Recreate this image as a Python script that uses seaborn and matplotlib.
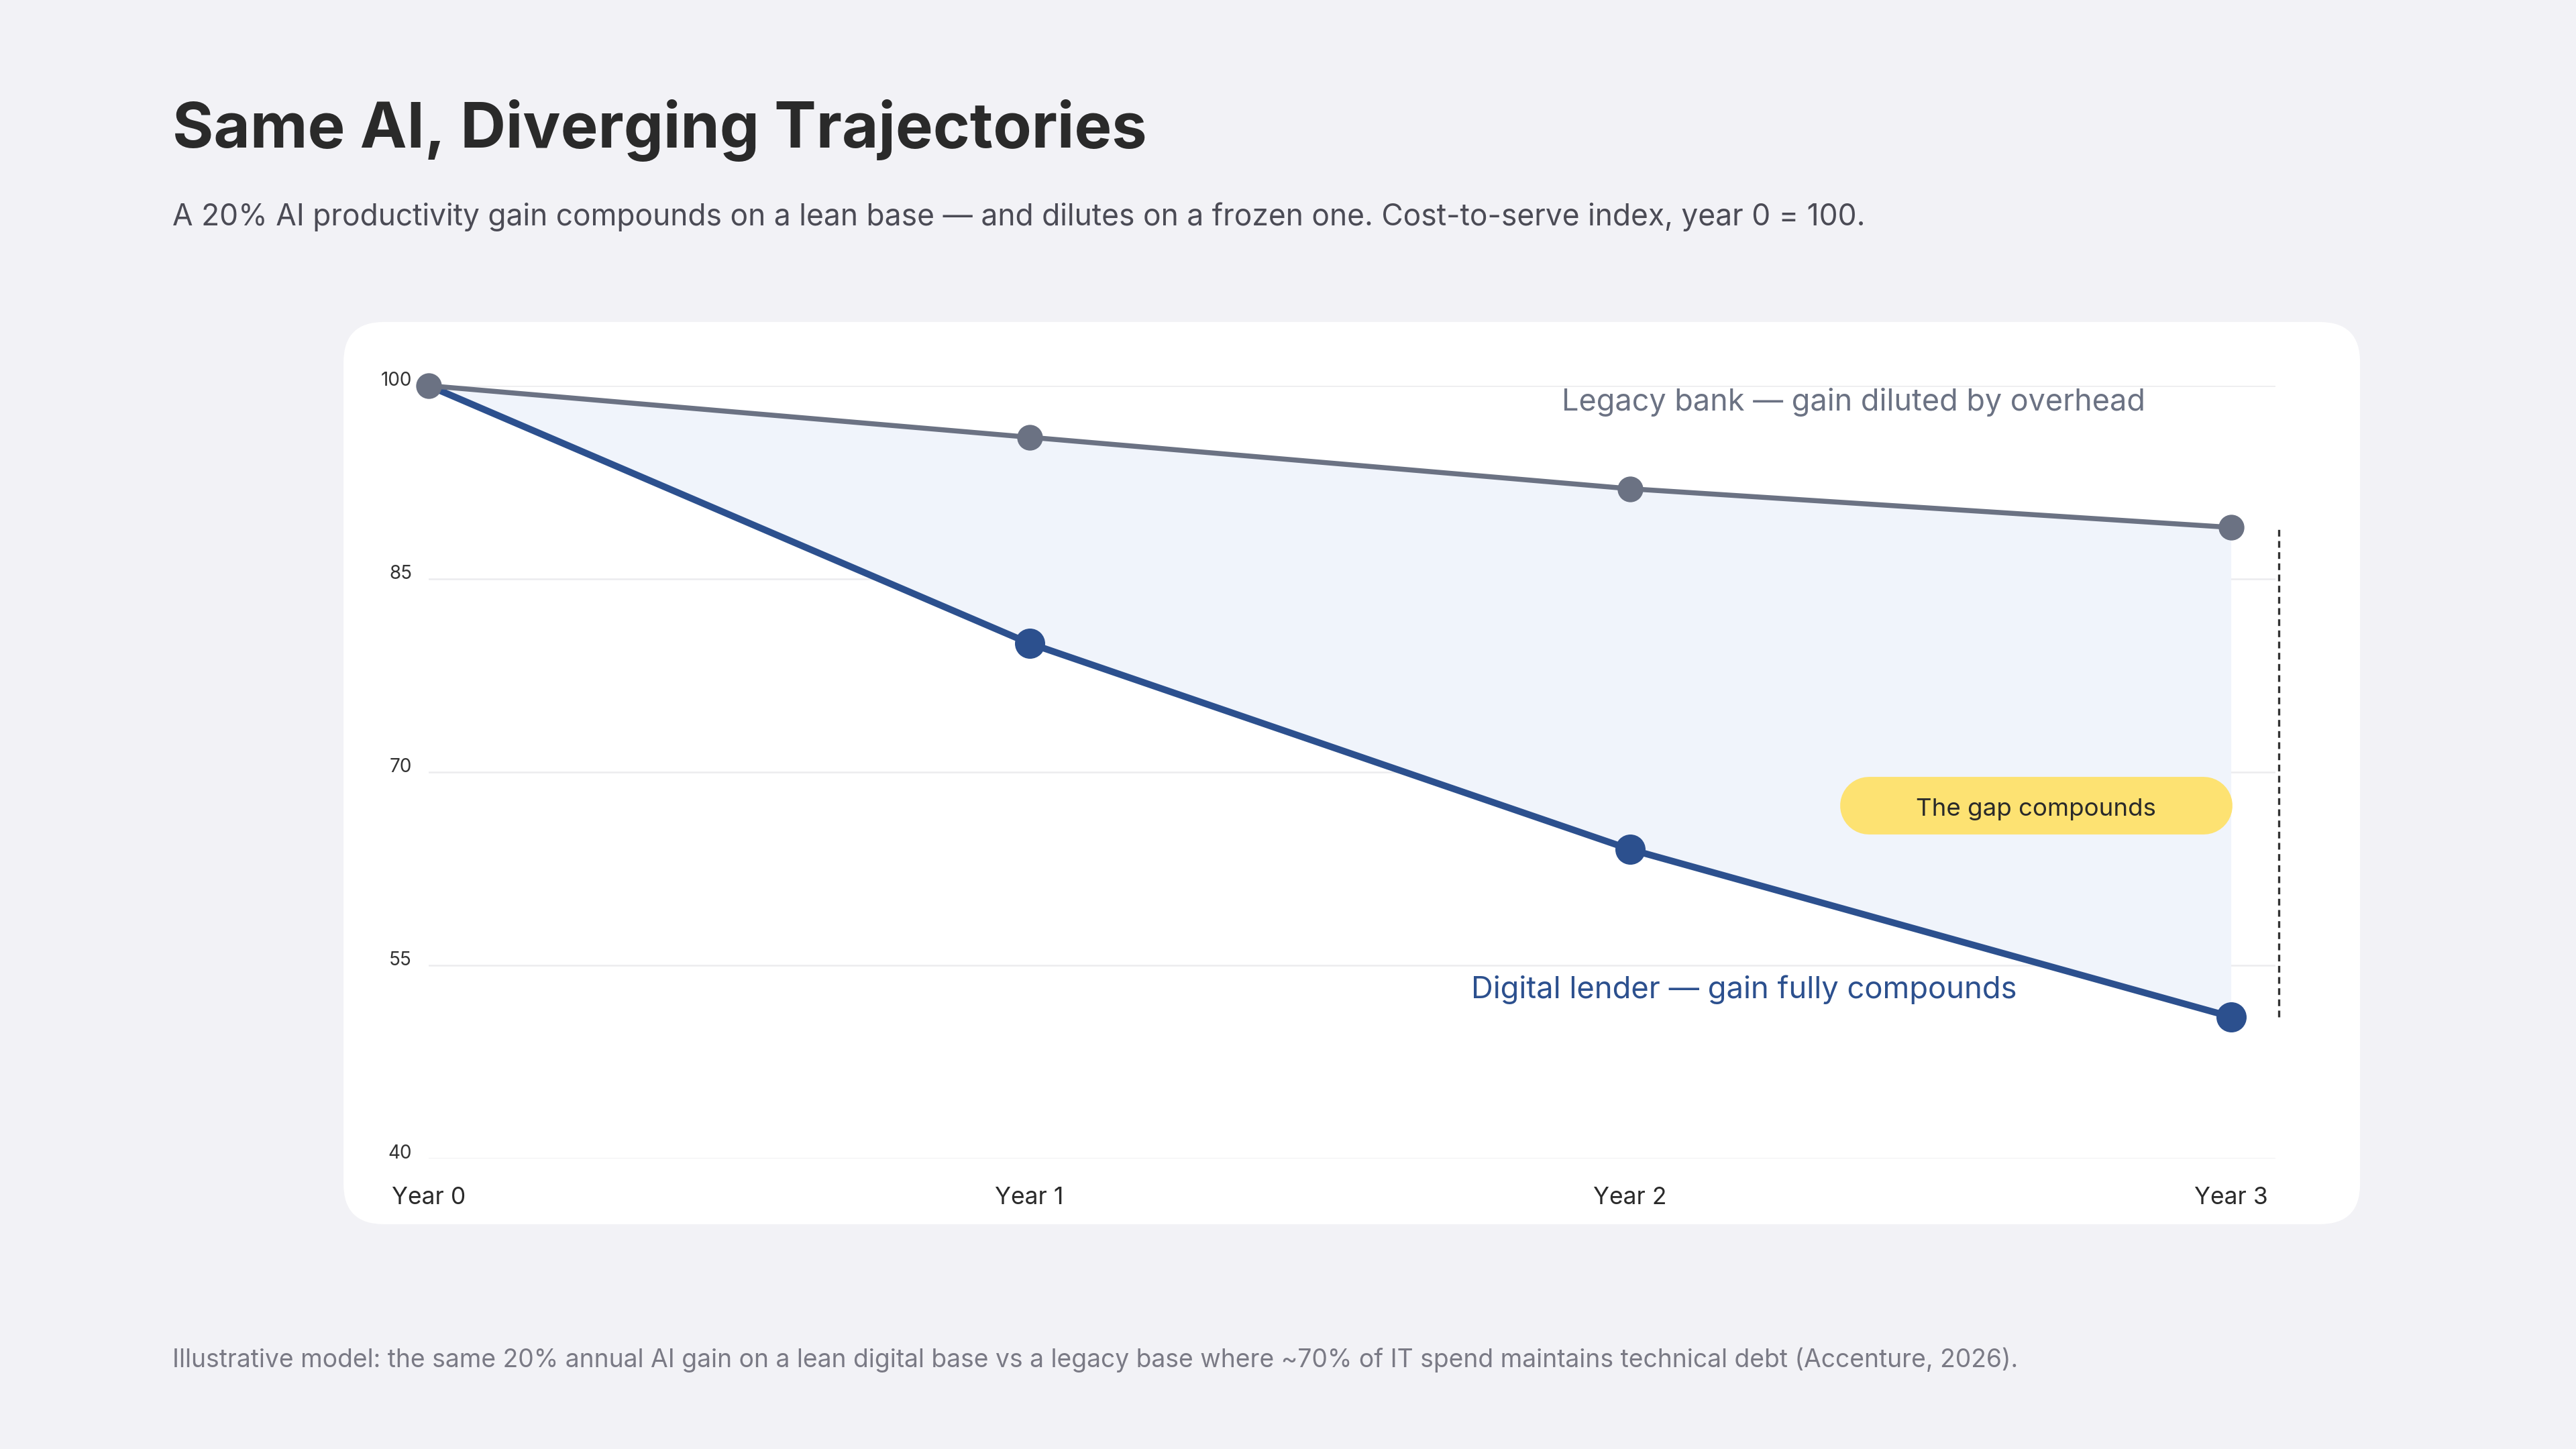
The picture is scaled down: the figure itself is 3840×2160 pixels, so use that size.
import numpy as np
import pandas as pd
import matplotlib.pyplot as plt
import seaborn as sns
from matplotlib.patches import FancyBboxPatch

# data (cost-to-serve index, year 0 = 100)
years = [0, 1, 2, 3]
year_labels = ['Year 0', 'Year 1', 'Year 2', 'Year 3']
digital = [100, 80, 64, 51]
legacy = [100, 96, 92, 89]
y_ticks = [40, 55, 70, 85, 100]

BG = '#F2F2F6'
BLUE = '#2C508E'
GRAY = '#6B7283'
FILL = '#F0F4FB'
YELLOW = '#FDE272'

sns.set_theme(style='white')
plt.rcParams['font.family'] = ['Inter', 'DejaVu Sans']

fig = plt.figure(figsize=(12.8, 7.2), dpi=300, facecolor=BG)

# white card behind the chart
card = FancyBboxPatch((1.707, 1.117), 10.02, 4.483, boxstyle='round,pad=0,rounding_size=0.2',
                      transform=fig.dpi_scale_trans, facecolor='white', edgecolor='none', zorder=-5)
fig.add_artist(card)

ax = fig.add_axes([0.1664, 0.2005, 0.7169, 0.5333])
ax.set_facecolor('none')
ax.set_zorder(1)

df = pd.DataFrame({'year': years, 'digital': digital, 'legacy': legacy})

ax.fill_between(df.year, df.digital, df.legacy, color=FILL, lw=0, zorder=1)
# shared start point is shown by the legacy marker only
sns.lineplot(data=df, x='year', y='digital', ax=ax, color=BLUE, lw=2.4, marker='o',
             markersize=10.8, markeredgewidth=0, markevery=[1, 2, 3], zorder=3, clip_on=False)
sns.lineplot(data=df, x='year', y='legacy', ax=ax, color=GRAY, lw=1.8, marker='o',
             markersize=9.2, markeredgewidth=0, zorder=4, clip_on=False)

ax.set_xlim(0, 3.074)
ax.set_ylim(40, 100)
ax.set_yticks(y_ticks)
ax.set_yticklabels([str(v) for v in y_ticks], fontsize=6.7, color='#333333', va='baseline')
ax.set_xticks(years)
ax.set_xticklabels(year_labels, fontsize=8.5, color='#2A2A2A')
ax.tick_params(axis='x', length=0, pad=10)
ax.tick_params(axis='y', length=0, pad=6)
ax.grid(axis='y', color='#ECECEE', lw=0.6)
ax.grid(axis='x', visible=False)
ax.set_xlabel('')
ax.set_ylabel('')
sns.despine(ax=ax, left=True, bottom=True)

# gap marker at year 3
ax.plot([3.08, 3.08], [digital[-1], legacy[-1]], ls=(0, (3, 2)), color='#333333', lw=0.8,
        clip_on=False, zorder=2)

# series labels
ax.text(2.857, 98.7, 'Legacy bank \u2014 gain diluted by overhead', color=GRAY, fontsize=10.8,
        ha='right', va='center')
ax.text(2.644, 53.1, 'Digital lender \u2014 gain fully compounds', color=BLUE, fontsize=10.9,
        ha='right', va='center')

# yellow pill callout
ax.plot([2.397, 2.955], [67.4, 67.4], color=YELLOW, lw=20.6, solid_capstyle='round', zorder=5)
ax.text(2.676, 67.1, 'The gap compounds', color='#2A2A2A', fontsize=8.8, ha='center',
        va='center', zorder=6)

fig.text(0.067, 0.898, 'Same AI, Diverging Trajectories', fontsize=22.5, fontweight='bold',
         color='#2A2A2A', ha='left', va='baseline')
fig.text(0.067, 0.8446, 'A 20% AI productivity gain compounds on a lean base \u2014 and dilutes on a '
         'frozen one. Cost-to-serve index, year 0 = 100.', fontsize=10.65, color='#4B4B55',
         ha='left', va='baseline')
fig.text(0.067, 0.0565, 'Illustrative model: the same 20% annual AI gain on a lean digital base vs a '
         'legacy base where ~70% of IT spend maintains technical debt (Accenture, 2026).',
         fontsize=8.95, color='#7A7A85', ha='left', va='baseline')

fig.savefig('out.png', dpi=300, facecolor=BG)
